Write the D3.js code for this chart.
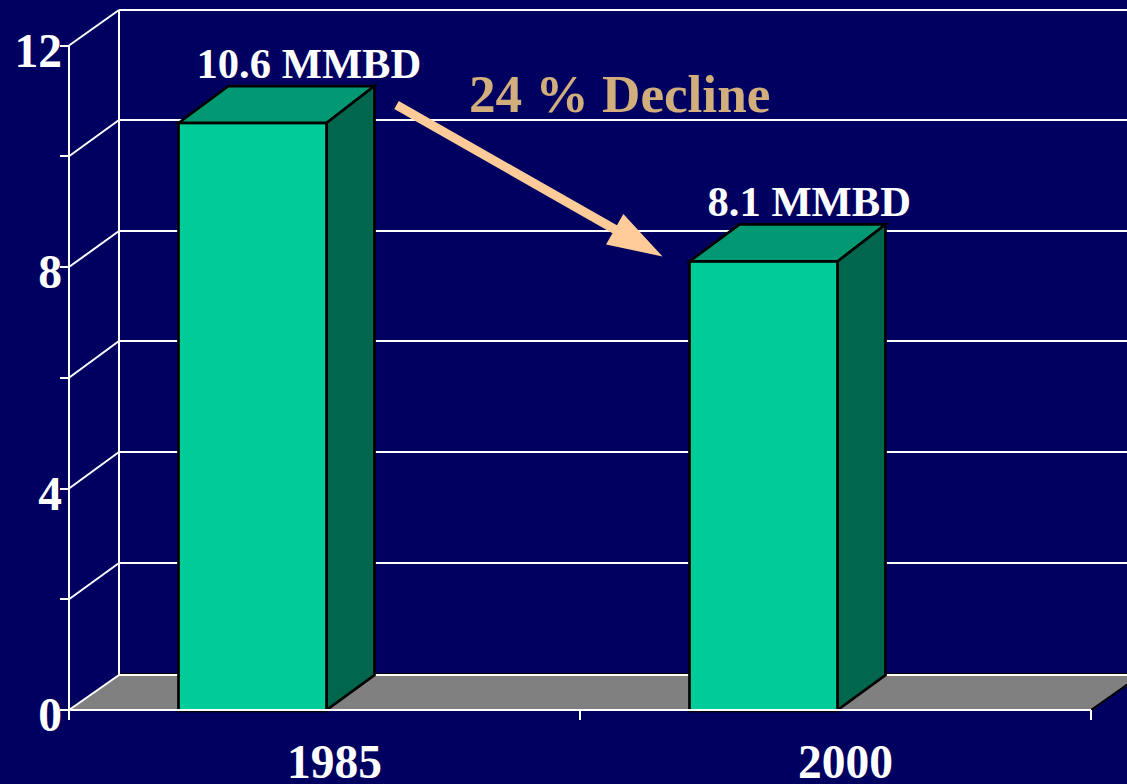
<!DOCTYPE html>
<html>

<head>
    <meta charset="UTF-8">
    <title>Production decline</title>
    <style>
        html, body { margin: 0; padding: 0; background: #000060; overflow: hidden; }
        svg { display: block; }
        text { font-family: 'Liberation Serif', serif; font-weight: bold; fill: #fff; }
        .axis .domain { display: none; }
        .axis line { stroke: #fff; stroke-width: 2; shape-rendering: crispEdges; }
        .axis text { fill: #fff; font-family: 'Liberation Serif', serif; font-weight: bold; }
        .crisp { shape-rendering: crispEdges; }
    </style>
</head>

<body>
    <script src="https://d3js.org/d3.v7.min.js"></script>
    <script>
        /// data
        var years = ["1985", "2000"];
        var values = [10.6, 8.1];
        var barLabels = ["10.6 MMBD", "8.1 MMBD"];
        var yTicks = [0, 2, 4, 6, 8, 10, 12];
        var yLabelled = [0, 4, 8, 12];
        var note = "24 % Decline";

        /// params
        var width = 1127, height = 784;
        var depthX = 50, depthY = 35;   // 3d offset of the back wall
        var barWidth = 148, barInset = 109.5;

        var x = d3.scaleBand().domain(years).range([69, 1091]);
        var y = d3.scaleLinear().domain([0, 12]).range([710, 45.5]);

        // interior grid lines sit a bit higher on the back wall than floor and top
        var backY = function(d) {
            var lift = d === 0 ? depthY : (d === 12 ? depthY + 0.5 : depthY + 1.5);
            return Math.round(y(d) - lift);
        };

        var svg = d3.select("body").append("svg")
            .attr("width", width)
            .attr("height", height);

        var poly = function(pts) { return pts.map(function(p) { return p.join(","); }).join(" "); };

        // floor
        svg.append("polygon")
            .attr("points", poly([
                [x.range()[0], y(0)],
                [x.range()[0] + depthX, y(0) - depthY],
                [x.range()[1] + depthX, y(0) - depthY],
                [x.range()[1], y(0)]
            ]))
            .attr("fill", "#808080");
        svg.append("line")
            .attr("x1", x.range()[1]).attr("y1", y(0))
            .attr("x2", x.range()[1] + depthX).attr("y2", y(0) - depthY)
            .attr("stroke", "#000").attr("stroke-width", 2);
        svg.append("line")
            .attr("x1", x.range()[0] + depthX).attr("y1", y(0) - depthY - 1)
            .attr("x2", width).attr("y2", y(0) - depthY - 1)
            .attr("stroke", "#000").attr("stroke-width", 2);

        // back wall grid + side wall diagonals
        var grid = svg.append("g").attr("stroke", "#fff").attr("stroke-width", 2);
        grid.selectAll(".back").data(yTicks).enter().append("line")
            .attr("class", "crisp")
            .attr("x1", x.range()[0] + depthX)
            .attr("x2", width)
            .attr("y1", backY)
            .attr("y2", backY);
        grid.selectAll(".side").data(yTicks).enter().append("line")
            .attr("x1", x.range()[0])
            .attr("x2", x.range()[0] + depthX)
            .attr("y1", function(d) { return y(d); })
            .attr("y2", backY);
        grid.append("line")
            .attr("class", "crisp")
            .attr("x1", x.range()[0] + depthX).attr("x2", x.range()[0] + depthX)
            .attr("y1", backY(12)).attr("y2", backY(0));

        // bars
        var rows = years.map(function(yr, i) { return { year: yr, value: values[i], label: barLabels[i] }; });
        var left = function(d) { return x(d.year) + barInset; };

        var bars = svg.selectAll(".bar").data(rows).enter().append("g")
            .attr("class", "bar")
            .attr("stroke", "#000")
            .attr("stroke-width", 2.7)
            .attr("stroke-linejoin", "miter");

        bars.append("polygon")
            .attr("fill", "#009973")
            .attr("points", function(d) {
                var l = left(d), t = y(d.value);
                return poly([[l, t], [l + depthX, t - depthY - 2], [l + barWidth + depthX - 2, t - depthY - 2], [l + barWidth, t]]);
            });
        bars.append("polygon")
            .attr("fill", "#00664d")
            .attr("points", function(d) {
                var l = left(d) + barWidth, t = y(d.value);
                return poly([[l, t], [l + depthX - 2, t - depthY - 2], [l + depthX - 2, y(0) - depthY], [l, y(0)]]);
            });
        bars.append("rect")
            .attr("fill", "#00cc99")
            .attr("x", left)
            .attr("y", function(d) { return y(d.value); })
            .attr("width", barWidth)
            .attr("height", function(d) { return y(0) - y(d.value) + 1; });

        // bar value labels
        svg.selectAll(".barlabel").data(rows).enter().append("text")
            .attr("class", "barlabel")
            .attr("x", function(d) { return left(d) + 18; })
            .attr("y", function(d) { return y(d.value) - 45; })
            .attr("font-size", 42.6)
            .text(function(d) { return d.label; });

        // left axis, only every other tick is labelled
        var yAxis = d3.axisLeft(y)
            .tickValues(yTicks)
            .tickSize(9)
            .tickPadding(-2)
            .offset(0)
            .tickFormat(function(d) { return yLabelled.indexOf(d) >= 0 ? d : ""; });
        var gy = svg.append("g")
            .attr("class", "axis")
            .attr("transform", "translate(" + x.range()[0] + ",0)")
            .call(yAxis);
        gy.selectAll("text")
            .attr("font-size", 47.5)
            .attr("dy", 21);

        // front vertical, baseline and edge ticks
        svg.append("line")
            .attr("class", "crisp")
            .attr("x1", x.range()[0]).attr("x2", x.range()[0])
            .attr("y1", y(12)).attr("y2", y(0) + 10)
            .attr("stroke", "#fff").attr("stroke-width", 2);
        svg.append("line")
            .attr("class", "crisp")
            .attr("x1", x.range()[0]).attr("x2", x.range()[1])
            .attr("y1", y(0)).attr("y2", y(0))
            .attr("stroke", "#fff").attr("stroke-width", 2);

        var edges = [x(years[0]) + x.step(), x.range()[1]];
        svg.selectAll(".edge").data(edges).enter().append("line")
            .attr("class", "crisp")
            .attr("x1", function(d) { return d; })
            .attr("x2", function(d) { return d; })
            .attr("y1", y(0))
            .attr("y2", y(0) + 10)
            .attr("stroke", "#fff").attr("stroke-width", 2);

        // category labels
        var gx = svg.append("g")
            .attr("class", "axis")
            .attr("transform", "translate(10," + y(0) + ")")
            .call(d3.axisBottom(x).tickSize(0).tickPadding(0));
        gx.selectAll("text")
            .attr("font-size", 47.5)
            .attr("dy", 0)
            .attr("y", 68);

        // arrow from the first bar to the second
        var from = [left(rows[0]) + barWidth + depthX + 20, y(values[0]) - 18];
        var to = [left(rows[1]) - 27, y(values[1]) - 5];
        var ang = Math.atan2(to[1] - from[1], to[0] - from[0]);
        var along = function(p, a, b) {
            return [p[0] + a * Math.cos(ang) - b * Math.sin(ang), p[1] + a * Math.sin(ang) + b * Math.cos(ang)];
        };
        svg.append("polygon")
            .attr("fill", "#ffcc99")
            .attr("points", poly([
                along(from, 0, -4.5),
                along(to, -55, -4.5),
                along(to, -55, -17.5),
                to,
                along(to, -55, 17.5),
                along(to, -55, 4.5),
                along(from, 0, 4.5)
            ]));

        // note
        svg.append("text")
            .attr("x", 469)
            .attr("y", 112)
            .attr("font-size", 53.2)
            .style("fill", "#d2ae7d")
            .text(note);
    </script>
</body>

</html>
